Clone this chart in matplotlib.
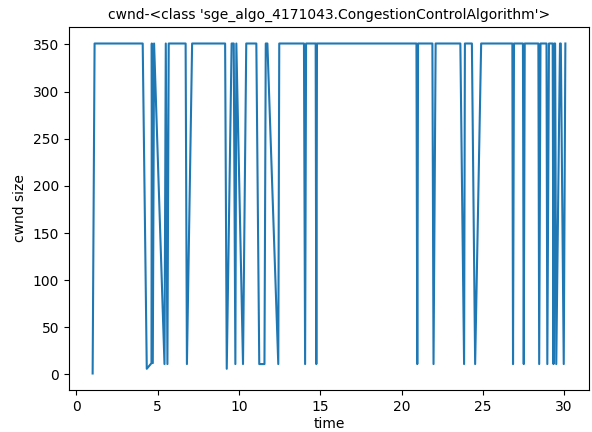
import matplotlib
matplotlib.use("Agg")
import matplotlib.pyplot as plt

# cwnd trace
times = [1.0, 1.12, 4.08, 4.33, 4.62, 4.64, 4.7, 4.78, 5.42, 5.5, 5.6, 5.68,
         6.72, 6.8, 7.12, 9.15, 9.25, 9.55, 9.68, 9.78, 9.84, 10.25, 10.45,
         11.07, 11.25, 11.57, 11.65, 11.75, 12.42, 12.48, 14.0, 14.07, 14.13,
         14.72, 14.76, 14.8, 20.92, 20.97, 21.02, 21.9, 21.97, 22.1, 23.62,
         23.85, 23.9, 24.33, 24.53, 24.9, 26.82, 26.86, 26.92, 27.47, 27.52,
         27.58, 28.42, 28.47, 28.55, 28.92, 28.97, 29.07, 29.3, 29.35, 29.4,
         29.45, 29.52, 29.75, 29.8, 29.98, 30.08]
cwnd = [1, 351, 351, 6, 12, 351, 12, 351, 11, 351, 11, 351,
        351, 11, 351, 351, 6, 351, 351, 11, 351, 11, 351,
        351, 11, 11, 351, 351, 11, 351, 351, 11, 351,
        351, 11, 351, 351, 11, 351, 351, 11, 351, 351,
        11, 351, 351, 11, 351, 351, 11, 351, 351, 11,
        351, 351, 11, 351, 351, 11, 351, 351, 11, 351,
        351, 11, 351, 351, 11, 351]

title = "cwnd-<class 'sge_algo_4171043.CongestionControlAlgorithm'>"

fig, ax = plt.subplots(figsize=(5.92, 4.32), dpi=100)
fig.subplots_adjust(left=69 / 592, right=589 / 592, top=1 - 27 / 432, bottom=1 - 390 / 432)
ax.plot(times, cwnd)
ax.set_title(title, fontsize=10)
ax.set_xlabel("time", labelpad=2)
ax.set_ylabel("cwnd size")

fig.savefig("out.png", dpi=100)
